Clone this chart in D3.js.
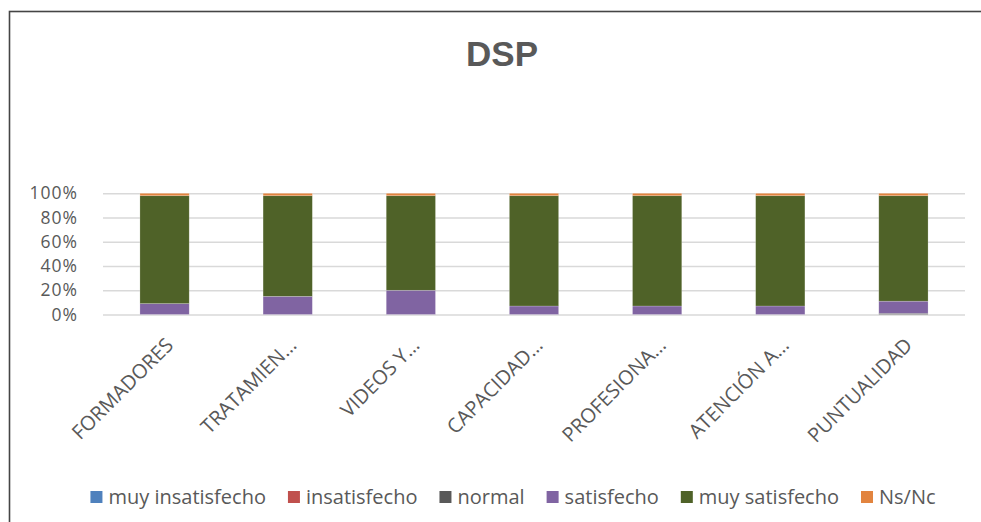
<!DOCTYPE html>
<html>
<head>
<meta charset="utf-8">
<script src="https://cdn.jsdelivr.net/npm/d3@7"></script>
<style>
  body { margin: 0; background: #fff; }
  text { font-family: "Open Sans", sans-serif; fill: #595959; }
</style>
</head>
<body>
<div id="chart"></div>
<script>
var categories = ["FORMADORES", "TRATAMIEN…", "VIDEOS Y…", "CAPACIDAD…", "PROFESIONA…", "ATENCIÓN A…", "PUNTUALIDAD"];
var seriesNames = ["muy insatisfecho", "insatisfecho", "normal", "satisfecho", "muy satisfecho", "Ns/Nc"];
var seriesColors = ["#4f81bd", "#c0504d", "#595959", "#8064a2", "#4f6228", "#e2843f"];

// percentages per category
var muyInsatisfecho = [0, 0, 0, 0, 0, 0, 0];
var insatisfecho    = [0, 0, 0, 0, 0, 0, 0];
var normal          = [0, 0, 0, 0, 0, 0, 1];
var satisfecho      = [9, 15, 20, 7, 7, 7, 10];
var muySatisfecho   = [89, 83, 78, 91, 91, 91, 87];
var nsNc            = [2, 2, 2, 2, 2, 2, 2];

var yTicks = [0, 0.2, 0.4, 0.6, 0.8, 1];

function draw_chart() {
    var W = 981, H = 522;
    var plot = {left: 103, right: 965, top: 193.3, bottom: 314.5};

    var svg = d3.select("#chart")
        .append("svg")
        .attr("width", W)
        .attr("height", H);

    // frame
    svg.append("rect")
        .attr("x", 9.5).attr("y", 11.5)
        .attr("width", 1000).attr("height", 600)
        .attr("fill", "#fff")
        .attr("stroke", "#454545")
        .attr("stroke-width", 1.6);

    svg.append("text")
        .attr("x", 502).attr("y", 66)
        .attr("text-anchor", "middle")
        .style("font-family", "'Liberation Sans', Arial, sans-serif")
        .style("font-weight", "bold")
        .style("font-size", "35px")
        .text("DSP");

    var x = d3.scaleBand()
        .domain(categories)
        .range([plot.left, plot.right])
        .paddingInner(0.6)
        .paddingOuter(0.3);
    var y = d3.scaleLinear()
        .domain([0, 1])
        .range([plot.bottom, plot.top]);

    // gridlines
    var yAxis = d3.axisLeft(y)
        .tickValues(yTicks)
        .tickSize(-(plot.right - plot.left))
        .tickFormat(d3.format(".0%"))
        .tickPadding(25);

    var gy = svg.append("g")
        .attr("transform", "translate(" + plot.left + ",0)")
        .call(yAxis);
    gy.select(".domain").remove();
    gy.selectAll(".tick line").attr("stroke", "#d9d9d9").attr("stroke-width", 1.5);
    gy.selectAll(".tick text")
        .style("font-size", "17.5px")
        .style("letter-spacing", "1px")
        .attr("fill", "#595959");

    // stack
    var raw = [muyInsatisfecho, insatisfecho, normal, satisfecho, muySatisfecho, nsNc];
    var rows = categories.map(function(c, i) {
        var r = {cat: c};
        seriesNames.forEach(function(s, j) { r[s] = raw[j][i] / 100; });
        return r;
    });
    var stacked = d3.stack().keys(seriesNames)(rows);

    svg.append("g").selectAll("g")
        .data(stacked)
        .enter().append("g")
        .attr("fill", function(d, i) { return seriesColors[i]; })
        .selectAll("rect")
        .data(function(d) { return d; })
        .enter().append("rect")
        .attr("x", function(d) { return x(d.data.cat); })
        .attr("width", x.bandwidth())
        .attr("y", function(d) { return y(d[1]); })
        .attr("height", function(d) { return y(d[0]) - y(d[1]); })
        .attr("stroke", "rgba(255,255,255,0.35)")
        .attr("stroke-width", 0.6);

    // x labels
    var xAxis = d3.axisBottom(x).tickSize(0).tickPadding(0);
    var gx = svg.append("g")
        .attr("transform", "translate(0," + plot.bottom + ")")
        .call(xAxis);
    gx.select(".domain").remove();
    gx.selectAll(".tick text")
        .style("font-size", "20px")
        .attr("fill", "#595959")
        .attr("text-anchor", "end")
        .attr("y", 0)
        .attr("dy", 0)
        .attr("transform", "translate(10,32) rotate(-45)");

    // legend
    var legend = svg.append("g");
    var lx = 0;
    seriesNames.forEach(function(s, i) {
        var item = legend.append("g").attr("transform", "translate(" + lx + ",0)");
        item.append("rect")
            .attr("x", 0).attr("y", -6)
            .attr("width", 12).attr("height", 12)
            .attr("fill", seriesColors[i]);
        var t = item.append("text")
            .attr("x", 18).attr("y", 7)
            .style("font-size", "20px")
            .text(s);
        lx += 18 + t.node().getComputedTextLength() + 22;
    });
    var total = lx - 22;
    legend.attr("transform", "translate(" + (513 - total / 2) + ",497)");
}

draw_chart();
</script>
</body>
</html>
